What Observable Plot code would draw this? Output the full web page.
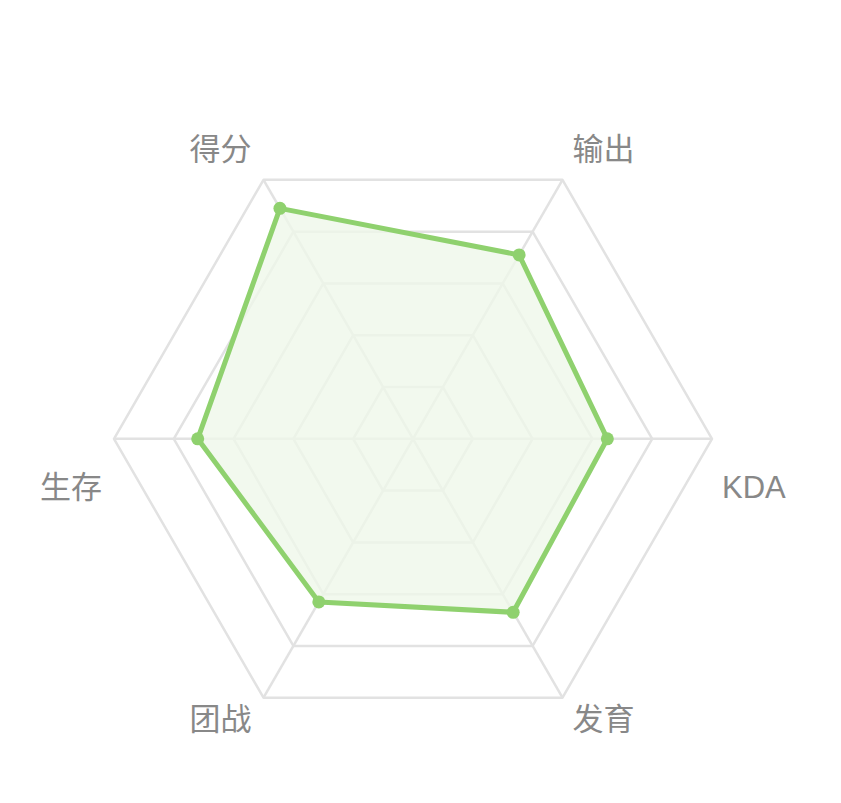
<!DOCTYPE html>
<html>
<head>
<meta charset="utf-8">
<script src="https://cdn.jsdelivr.net/npm/d3@7"></script>
<script src="https://cdn.jsdelivr.net/npm/@observablehq/plot@0.6"></script>
<style>
  html, body { margin: 0; padding: 0; background: #fff; }
  #chart svg { display: block; }
</style>
</head>
<body>
<div id="chart"></div>
<script>
// ---- data ----
const indicators = ["KDA", "输出", "得分", "生存", "团战", "发育"];
const values = [65, 71, 89, 72, 63, 67];
const maxValue = 100;
const ringLevels = [0.2, 0.4, 0.6, 0.8, 1.0];

// ---- derived tables ----
const angleOf = i => (i * 2 * Math.PI) / indicators.length;
const rings = ringLevels.flatMap(level =>
  indicators.map((name, i) => ({level, x: Math.cos(angleOf(i)) * level, y: Math.sin(angleOf(i)) * level}))
);
const spokes = indicators.map((name, i) => ({name, x: Math.cos(angleOf(i)), y: Math.sin(angleOf(i))}));
const series = indicators.map((name, i) => ({
  name, value: values[i],
  x: Math.cos(angleOf(i)) * values[i] / maxValue,
  y: Math.sin(angleOf(i)) * values[i] / maxValue
}));
const labels = spokes.map(d => ({...d, anchor: d.x > 0.01 ? "start" : "end"}));
const topLabels = labels.filter(d => d.y > 0.01);
const midLabels = labels.filter(d => Math.abs(d.y) <= 0.01);
const botLabels = labels.filter(d => d.y < -0.01);

const W = 841, H = 803, R = 299, CX = 412.5, CY = 438.3;
const green = "#8fd16e";
const font = "'Liberation Sans', 'Noto Sans CJK SC', sans-serif";

function labelMark(data, dy) {
  return [
    Plot.text(data.filter(d => d.anchor === "start"), {x: "x", y: "y", text: "name", textAnchor: "start", dx: 10, dy, fontSize: 31, fill: "#888"}),
    Plot.text(data.filter(d => d.anchor === "end"), {x: "x", y: "y", text: "name", textAnchor: "end", dx: -12, dy, fontSize: 31, fill: "#888"})
  ];
}

const chart = Plot.plot({
  width: W,
  height: H,
  margin: 0,
  style: {fontFamily: font, background: "#fff"},
  x: {domain: [-CX / R, (W - CX) / R], axis: null},
  y: {domain: [-(H - CY) / R, CY / R], axis: null},
  marks: [
    Plot.line(rings, {x: "x", y: "y", z: "level", curve: "linear-closed", stroke: "#e2e2e2", strokeWidth: 2.5}),
    Plot.link(spokes, {x1: 0, y1: 0, x2: "x", y2: "y", stroke: "#e2e2e2", strokeWidth: 2.5}),
    Plot.line(series, {x: "x", y: "y", curve: "linear-closed", fill: "rgb(238,247,233)", fillOpacity: 0.78, stroke: "none"}),
    Plot.line(series, {x: "x", y: "y", curve: "linear-closed", fill: "none", stroke: green, strokeWidth: 5, strokeLinejoin: "round"}),
    Plot.dot(series, {x: "x", y: "y", r: 6.5, fill: green, stroke: "none"}),
    ...labelMark(topLabels, -30),
    ...labelMark(midLabels, 49),
    ...labelMark(botLabels, 22)
  ]
});
document.getElementById("chart").appendChild(chart);
</script>
</body>
</html>
